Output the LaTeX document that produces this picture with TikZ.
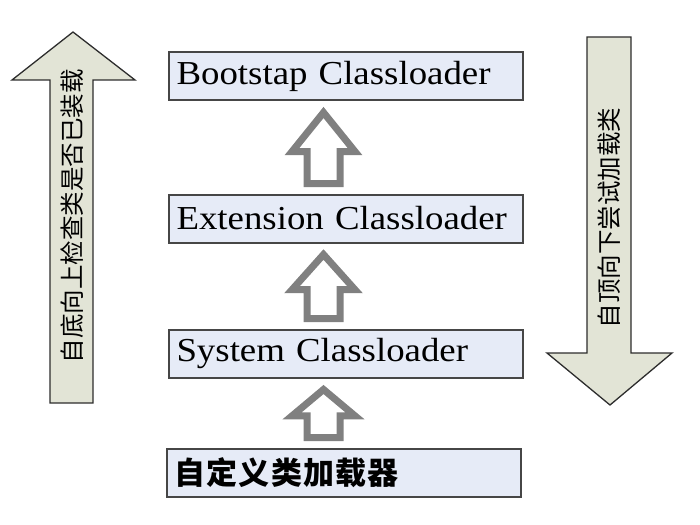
\documentclass[tikz,border=0pt]{standalone}
\usepackage{fontspec}
\setmainfont{Liberation Serif}
\newfontfamily\cjk{Noto Sans CJK SC}
\newfontfamily\serifwide[FakeStretch=1.1]{Liberation Serif}
\usetikzlibrary{positioning,calc}
\definecolor{boxfill}{RGB}{230,235,247}
\definecolor{boxline}{RGB}{70,70,70}
\definecolor{arrfill}{RGB}{226,228,214}
\definecolor{arrline}{RGB}{45,45,45}
\definecolor{hollowgray}{RGB}{128,128,128}
\tikzset{
  ldr/.style={draw=boxline, line width=2pt, fill=boxfill, minimum width=354pt,
              minimum height=48pt, text width=338pt, align=left, inner xsep=8pt,
              font=\serifwide\fontsize{33.5}{36}\selectfont},
  cjkldr/.style={ldr, font=\cjk\bfseries\fontsize{31}{34}\selectfont},
  bigarr/.style={draw=arrline, line width=1.3pt, fill=arrfill, line join=miter},
  sidetxt/.style={rotate=90, font=\cjk\fontsize{24.5}{26}\selectfont},
  hollow/.style={draw=hollowgray, line width=7pt, line join=miter},
}
% hollow up arrow from lower box #2 to upper box #1
\newcommand{\hollowup}[2]{%
  \draw[hollow] let \p1=($(#1.south)+(-22,0)$), \p2=(#2.north),
    \n1={\y1-11}, \n2={\y2+10}, \n3={\y1-11-0.55*(\y1-\y2-21)} in
    (\x1-16.5,\n2) -- (\x1+16.5,\n2) -- (\x1+16.5,\n3) -- (\x1+31.5,\n3)
    -- (\x1,\n1) -- (\x1-31.5,\n3) -- (\x1-16.5,\n3) -- cycle;}

\begin{document}
\begin{tikzpicture}[x=1pt,y=1pt]
  \useasboundingbox (0,0) rectangle (700,-524);
  \node[ldr] (boot) at (345.5,-76.5) {Bootstap Classloader};
  \node[ldr, below=92pt of boot] (ext) {Extension Classloader};
  \node[ldr, below=85pt of ext] (sys) {System Classloader};
  \node[cjkldr, below=69pt of sys, xshift=-2pt] (cust) {\addfontfeature{LetterSpace=4}自定义类加载器};
  \hollowup{boot}{ext}
  \hollowup{ext}{sys}
  \hollowup{sys}{cust}
  % side arrows
  \draw[bigarr] (50,-403) -- (93,-403) -- (93,-80) -- (135,-80) -- (73,-32)
    -- (12,-80) -- (50,-80) -- cycle;
  \node[sidetxt] (upnote) at (72,-216) {自底向上检查类是否已装载};
  \draw[bigarr] (587,-37) -- (631,-37) -- (631,-353) -- (672,-353) -- (610,-405)
    -- (547,-353) -- (587,-353) -- cycle;
  \node[sidetxt] (downnote) at (609,-218) {自顶向下尝试加载类};
\end{tikzpicture}
\end{document}
